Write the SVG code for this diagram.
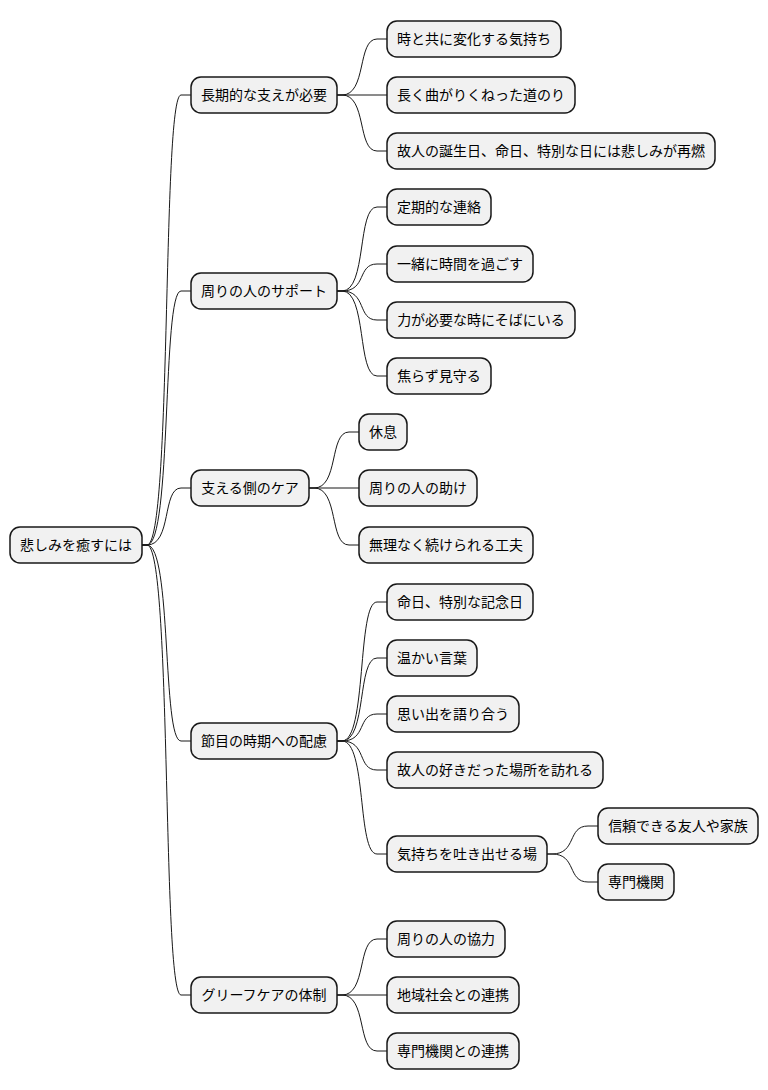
<svg xmlns="http://www.w3.org/2000/svg" width="768" height="1090" viewBox="0 0 768 1090">
<style>
rect{fill:#F1F1F1;stroke:#181818;stroke-width:1.5}
text{font-family:"Noto Sans CJK JP","Noto Sans",sans-serif;font-size:14px;fill:#000;text-anchor:middle}
.c path{fill:none;stroke:#181818;stroke-width:1}
</style>
<rect x="0" y="0" width="768" height="1090" style="fill:#fff;stroke:none"/>
<g class="c" id="connectors">
<path d="M142,545 L147,545 C172,545 162,95 181,95 L191,95"/>
<path d="M142,545 L147,545 C172,545 162,291 181,291 L191,291"/>
<path d="M142,545 L147,545 C172,545 162,488 181,488 L191,488"/>
<path d="M142,545 L147,545 C172,545 162,741 181,741 L191,741"/>
<path d="M142,545 L147,545 C172,545 162,995 181,995 L191,995"/>
<path d="M337,95 L342,95 C367,95 357,39 377,39 L387,39"/>
<path d="M337,95 L387,95"/>
<path d="M337,95 L342,95 C367,95 357,151 377,151 L387,151"/>
<path d="M337,291 L342,291 C367,291 357,207 377,207 L387,207"/>
<path d="M337,291 L342,291 C367,291 357,264 377,264 L387,264"/>
<path d="M337,291 L342,291 C367,291 357,320 377,320 L387,320"/>
<path d="M337,291 L342,291 C367,291 357,376 377,376 L387,376"/>
<path d="M309,488 L314,488 C339,488 329,432 349,432 L359,432"/>
<path d="M309,488 L359,488"/>
<path d="M309,488 L314,488 C339,488 329,545 349,545 L359,545"/>
<path d="M337,741 L342,741 C367,741 357,602 377,602 L387,602"/>
<path d="M337,741 L342,741 C367,741 357,658 377,658 L387,658"/>
<path d="M337,741 L342,741 C367,741 357,714 377,714 L387,714"/>
<path d="M337,741 L342,741 C367,741 357,770 377,770 L387,770"/>
<path d="M337,741 L342,741 C367,741 357,854 377,854 L387,854"/>
<path d="M547,854 L552,854 C577,854 567,826 588,826 L598,826"/>
<path d="M547,854 L552,854 C577,854 567,882 588,882 L598,882"/>
<path d="M337,995 L342,995 C367,995 357,939 377,939 L387,939"/>
<path d="M337,995 L387,995"/>
<path d="M337,995 L342,995 C367,995 357,1051 377,1051 L387,1051"/>
</g>
<g id="root"><rect x="10" y="527" width="132" height="36" rx="10"/><text x="76" y="550">悲しみを癒すには</text></g>
<g id="n1"><rect x="191" y="77" width="146" height="36" rx="10"/><text x="264" y="100">長期的な支えが必要</text></g>
<g id="n2"><rect x="191" y="273" width="146" height="36" rx="10"/><text x="264" y="296">周りの人のサポート</text></g>
<g id="n3"><rect x="191" y="470" width="118" height="36" rx="10"/><text x="250" y="493">支える側のケア</text></g>
<g id="n4"><rect x="191" y="723" width="146" height="36" rx="10"/><text x="264" y="746">節目の時期への配慮</text></g>
<g id="n5"><rect x="191" y="977" width="146" height="36" rx="10"/><text x="264" y="1000">グリーフケアの体制</text></g>
<g id="n1a"><rect x="387" y="21" width="174" height="36" rx="10"/><text x="474" y="44">時と共に変化する気持ち</text></g>
<g id="n1b"><rect x="387" y="77" width="188" height="36" rx="10"/><text x="481" y="100">長く曲がりくねった道のり</text></g>
<g id="n1c"><rect x="387" y="133" width="328" height="36" rx="10"/><text x="551" y="156">故人の誕生日、命日、特別な日には悲しみが再燃</text></g>
<g id="n2a"><rect x="387" y="189" width="104" height="36" rx="10"/><text x="439" y="212">定期的な連絡</text></g>
<g id="n2b"><rect x="387" y="246" width="146" height="36" rx="10"/><text x="460" y="269">一緒に時間を過ごす</text></g>
<g id="n2c"><rect x="387" y="302" width="188" height="36" rx="10"/><text x="481" y="325">力が必要な時にそばにいる</text></g>
<g id="n2d"><rect x="387" y="358" width="104" height="36" rx="10"/><text x="439" y="381">焦らず見守る</text></g>
<g id="n3a"><rect x="359" y="414" width="48" height="36" rx="10"/><text x="383" y="437">休息</text></g>
<g id="n3b"><rect x="359" y="470" width="118" height="36" rx="10"/><text x="418" y="493">周りの人の助け</text></g>
<g id="n3c"><rect x="359" y="527" width="174" height="36" rx="10"/><text x="446" y="550">無理なく続けられる工夫</text></g>
<g id="n4a"><rect x="387" y="584" width="146" height="36" rx="10"/><text x="460" y="607">命日、特別な記念日</text></g>
<g id="n4b"><rect x="387" y="640" width="90" height="36" rx="10"/><text x="432" y="663">温かい言葉</text></g>
<g id="n4c"><rect x="387" y="696" width="132" height="36" rx="10"/><text x="453" y="719">思い出を語り合う</text></g>
<g id="n4d"><rect x="387" y="752" width="216" height="36" rx="10"/><text x="495" y="775">故人の好きだった場所を訪れる</text></g>
<g id="n4e"><rect x="387" y="836" width="160" height="36" rx="10"/><text x="467" y="859">気持ちを吐き出せる場</text></g>
<g id="n4e1"><rect x="598" y="808" width="160" height="36" rx="10"/><text x="678" y="831">信頼できる友人や家族</text></g>
<g id="n4e2"><rect x="598" y="864" width="76" height="36" rx="10"/><text x="636" y="887">専門機関</text></g>
<g id="n5a"><rect x="387" y="921" width="118" height="36" rx="10"/><text x="446" y="944">周りの人の協力</text></g>
<g id="n5b"><rect x="387" y="977" width="132" height="36" rx="10"/><text x="453" y="1000">地域社会との連携</text></g>
<g id="n5c"><rect x="387" y="1033" width="132" height="36" rx="10"/><text x="453" y="1056">専門機関との連携</text></g>
</svg>
